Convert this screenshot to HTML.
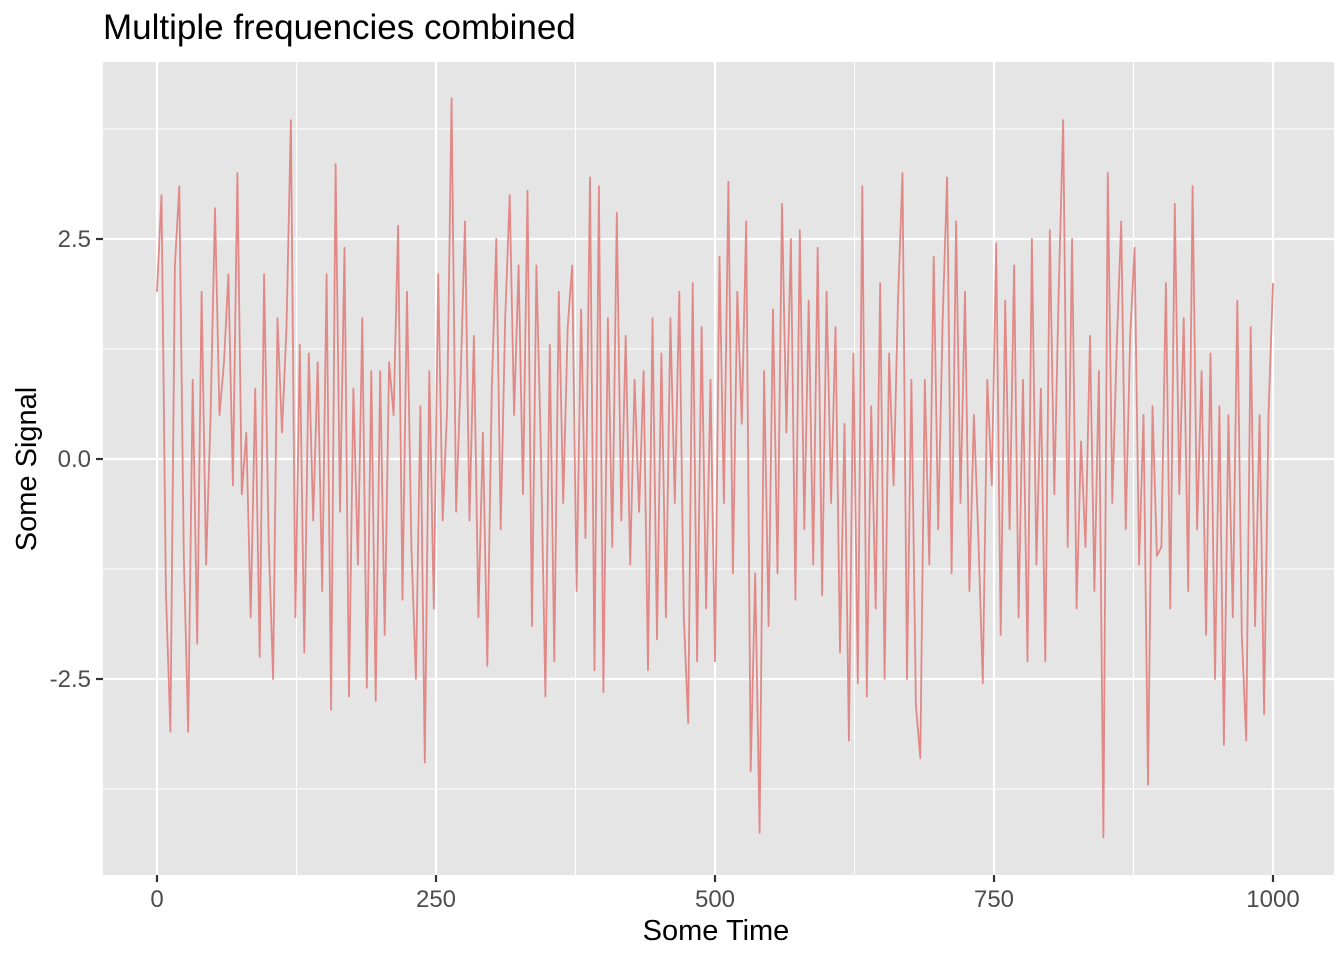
<!DOCTYPE html>
<html><head><meta charset="utf-8"><style>
body{margin:0;background:#fff;}
svg text{font-family:"Liberation Sans",Arial,sans-serif;}
</style></head><body>
<svg width="1344" height="960" xmlns="http://www.w3.org/2000/svg">
<text x="103" y="39" font-size="35" fill="#000">Multiple frequencies combined</text>
<rect x="103" y="62" width="1231" height="813" fill="#e5e5e5"/>
<g id="grid"></g>
<g id="series"></g>
<g id="axes"></g>
<text x="716" y="940" font-size="29" text-anchor="middle" fill="#000">Some Time</text>
<text x="0" y="0" font-size="29" text-anchor="middle" fill="#000" transform="translate(36,469) rotate(-90)">Some Signal</text>
</svg>
<script>
const xTicks=[0,250,500,750,1000];
const xTickLabels=["0","250","500","750","1000"];
const yTicks=[-2.5,0,2.5];
const yTickLabels=["-2.5","0.0","2.5"];
const stepT=4;
const signal=[
1.9,3.0,-1.5,-3.1,2.2,3.1,-1.1,-3.1,0.9,-2.1,1.9,-1.2,0.5,2.85,0.5,1.1,2.1,-0.3,3.25,-0.4,0.3,-1.8,0.8,-2.25,2.1,
-0.9,-2.5,1.6,0.3,1.5,3.85,-1.8,1.3,-2.2,1.2,-0.7,1.1,-1.5,2.1,-2.85,3.35,-0.6,2.4,-2.7,0.8,-1.2,1.6,-2.6,1.0,-2.75,
1.0,-2.0,1.1,0.5,2.65,-1.6,1.9,-1.0,-2.5,0.6,-3.45,1.0,-1.7,2.1,-0.7,0.6,4.1,-0.6,0.9,2.7,-0.7,1.4,-1.8,0.3,-2.35,
0.8,2.5,-0.8,1.6,3.0,0.5,2.2,-0.4,3.05,-1.9,2.2,0.1,-2.7,1.3,-2.3,1.9,-0.5,1.5,2.2,-1.5,1.7,-0.9,3.2,-2.4,3.1,
-2.65,1.6,-1.0,2.8,-0.7,1.4,-1.2,0.9,-0.6,1.0,-2.4,1.6,-2.05,1.2,-1.8,1.6,-0.5,1.9,-1.8,-3.0,2.0,-2.3,1.5,-1.7,0.9,
-2.3,2.3,-0.5,3.15,-1.3,1.9,0.4,2.7,-3.55,-1.3,-4.25,1.0,-1.9,1.7,-1.3,2.9,0.3,2.5,-1.6,2.6,-0.8,1.8,-1.2,2.4,-1.55,
1.9,-0.5,1.5,-2.2,0.4,-3.2,1.2,-2.55,3.1,-2.7,0.6,-1.7,2.0,-2.5,1.2,-0.3,1.8,3.25,-2.5,0.9,-2.8,-3.4,0.9,-1.2,2.3,
-0.8,1.6,3.2,-1.3,2.7,-0.5,1.9,-1.5,0.5,-0.9,-2.55,0.9,-0.3,2.45,-2.0,1.8,-0.8,2.2,-1.8,0.9,-2.3,2.5,-1.2,0.8,-2.3,
2.6,-0.4,1.9,3.85,-1.0,2.5,-1.7,0.2,-1.0,1.4,-1.5,1.0,-4.3,3.25,-0.5,1.3,2.7,-0.8,1.4,2.4,-1.2,0.5,-3.7,0.6,-1.1,
-1.0,2.0,-1.7,2.9,-0.4,1.6,-1.5,3.1,-0.8,1.0,-2.0,1.2,-2.5,0.6,-3.25,0.5,-1.8,1.8,-2.0,-3.2,1.5,-1.9,0.5,-2.9,0.5,
2.0];
const NS="http://www.w3.org/2000/svg";
const X0=157,X1=1273,PY0=62,PY1=875,PX0=103,PX1=1334;
function sx(t){return X0+(t-0)*(X1-X0)/1000;}
function sy(v){return 459-v*88;}
const grid=document.getElementById('grid'),axes=document.getElementById('axes'),series=document.getElementById('series');
function line(parent,x1,y1,x2,y2,stroke,w){const l=document.createElementNS(NS,'line');l.setAttribute('x1',x1);l.setAttribute('y1',y1);l.setAttribute('x2',x2);l.setAttribute('y2',y2);l.setAttribute('stroke',stroke);l.setAttribute('stroke-width',w);parent.appendChild(l);return l;}
for(let i=0;i<xTicks.length-1;i++){const m=(xTicks[i]+xTicks[i+1])/2;const l=line(grid,sx(m),PY0,sx(m),PY1,'#fff',1.1);

}
[-3.75,-1.25,1.25,3.75].forEach(v=>{const l=line(grid,PX0,sy(v),PX1,sy(v),'#fff',1.1);

});
xTicks.forEach((t,i)=>{const l=line(grid,sx(t),PY0,sx(t),PY1,'#fff',2.2);


const tk=line(axes,sx(t),PY1,sx(t),PY1+7,'#333',2.2);


const tx=document.createElementNS(NS,'text');tx.setAttribute('x',sx(t));tx.setAttribute('y',907);tx.setAttribute('font-size','24');tx.setAttribute('text-anchor','middle');tx.setAttribute('fill','#4d4d4d');tx.textContent=xTickLabels[i];


axes.appendChild(tx);});
yTicks.forEach((v,i)=>{const l=line(grid,PX0,sy(v),PX1,sy(v),'#fff',2.2);


const tk=line(axes,PX0-7,sy(v),PX0,sy(v),'#333',2.2);


const tx=document.createElementNS(NS,'text');tx.setAttribute('x',PX0-12);tx.setAttribute('y',sy(v)+8);tx.setAttribute('font-size','24');tx.setAttribute('text-anchor','end');tx.setAttribute('fill','#4d4d4d');tx.textContent=yTickLabels[i];


axes.appendChild(tx);});
const p=document.createElementNS(NS,'path');
p.setAttribute('d',signal.map((v,i)=>(i?'L':'M')+sx(i*stepT).toFixed(1)+','+sy(v).toFixed(1)).join(''));
p.setAttribute('fill','none');p.setAttribute('stroke','#e08987');p.setAttribute('stroke-width','1.8');p.setAttribute('stroke-linejoin','round');


series.appendChild(p);
</script>
</body></html>
